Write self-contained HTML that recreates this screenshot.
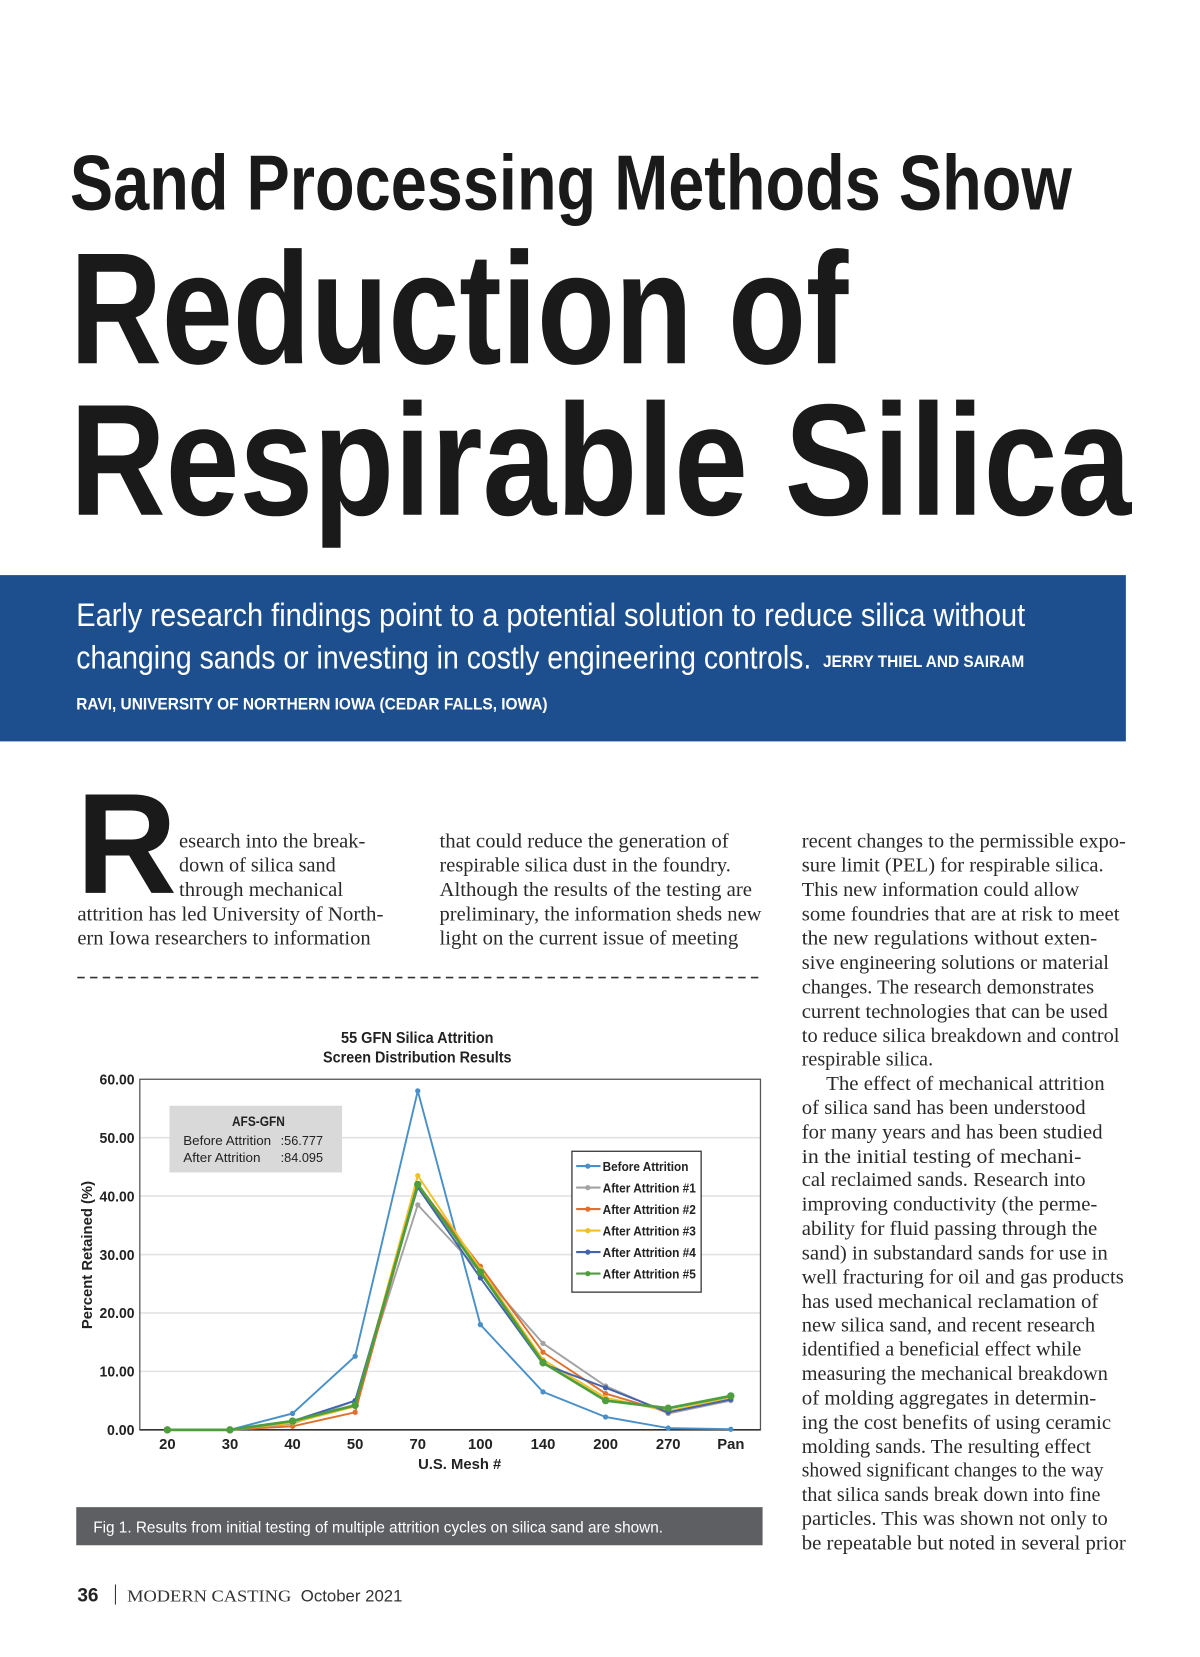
<!DOCTYPE html>
<html><head><meta charset="utf-8"><style>
html,body{margin:0;padding:0;background:#fff;}
svg{display:block;}
.h{font-family:"Liberation Sans Narrow","Liberation Sans",sans-serif;font-weight:bold;fill:#1a1a1a;}
.s{font-family:"Liberation Serif",serif;font-size:19px;fill:#2a2a2a;}
</style></head><body>
<svg id="page" width="1200" height="1657" viewBox="0 0 1133 1564.5" preserveAspectRatio="none">
<g>
<text class="h" x="66" y="198" font-size="74" textLength="946" lengthAdjust="spacingAndGlyphs">Sand Processing Methods Show</text>
<text class="h" x="66" y="343" font-size="150" textLength="735" lengthAdjust="spacingAndGlyphs">Reduction of</text>
<text class="h" x="66" y="486" font-size="150" textLength="1002" lengthAdjust="spacingAndGlyphs">Respirable Silica</text>
</g>
<g>
<rect x="0" y="543" width="1063" height="157" fill="#1d4f8e"/>
<text x="72" y="591" font-family="Liberation Sans Narrow, Liberation Sans, sans-serif" font-size="31" fill="#fff" textLength="896" lengthAdjust="spacingAndGlyphs">Early research findings point to a potential solution to reduce silica without</text>
<text x="72" y="631" font-family="Liberation Sans Narrow, Liberation Sans, sans-serif" font-size="31" fill="#fff" textLength="694" lengthAdjust="spacingAndGlyphs">changing sands or investing in costly engineering controls.</text>
<text x="777" y="630" font-family="Liberation Sans Narrow, Liberation Sans, sans-serif" font-weight="bold" font-size="16" fill="#fff" textLength="190" lengthAdjust="spacingAndGlyphs">JERRY THIEL AND SAIRAM</text>
<text x="72" y="670" font-family="Liberation Sans Narrow, Liberation Sans, sans-serif" font-weight="bold" font-size="16" fill="#fff" textLength="445" lengthAdjust="spacingAndGlyphs">RAVI, UNIVERSITY OF NORTHERN IOWA (CEDAR FALLS, IOWA)</text>
</g>
<text class="h" x="72" y="843" font-size="135" textLength="95" lengthAdjust="spacingAndGlyphs">R</text>
<g id="body"></g>
<line x1="73" y1="923" x2="720" y2="923" stroke="#333" stroke-width="1.5" stroke-dasharray="7,5"/>
<g id="chart"></g>
<rect x="72" y="1423" width="648" height="36" fill="#5e5f62"/>
<text x="88" y="1447" font-family="Liberation Sans Narrow, Liberation Sans, sans-serif" font-size="15" fill="#fff" textLength="538" lengthAdjust="spacingAndGlyphs">Fig 1. Results from initial testing of multiple attrition cycles on silica sand are shown.</text>
<g>
<text x="73" y="1512" font-family="Liberation Sans, sans-serif" font-weight="bold" font-size="18" fill="#222">36</text>
<line x1="109" y1="1496" x2="109" y2="1515" stroke="#333"/>
<text x="120" y="1512" font-family="Liberation Serif, serif" font-size="16" fill="#333" textLength="155" lengthAdjust="spacingAndGlyphs">MODERN CASTING</text>
<text x="284" y="1512" font-family="Liberation Sans, sans-serif" font-size="16" fill="#333" textLength="96" lengthAdjust="spacingAndGlyphs">October 2021</text>
</g>
</svg>
<script>
const NS="http://www.w3.org/2000/svg";
function mk(tag,attrs,parent,txt){const e=document.createElementNS(NS,tag);for(const k in attrs)e.setAttribute(k,attrs[k]);if(txt!==undefined)e.textContent=txt;parent.appendChild(e);return e;}
const body=document.getElementById('body');
const lines=[
[169,800,176,"esearch into the break-"],[169,823,148,"down of silica sand"],[169,846,155,"through mechanical"],[73,869,289,"attrition has led University of North-"],[73,892,277,"ern Iowa researchers to information"],
[415,800,273,"that could reduce the generation of"],[415,823,275,"respirable silica dust in the foundry."],[415,846,295,"Although the results of the testing are"],[415,869,304,"preliminary, the information sheds new"],[415,892,282,"light on the current issue of meeting"],
[757,800,306,"recent changes to the permissible expo-"],[757,823,285,"sure limit (PEL) for respirable silica."],[757,846,262,"This new information could allow"],[757,869,300,"some foundries that are at risk to meet"],[757,892,279,"the new regulations without exten-"],[757,915,290,"sive engineering solutions or material"],[757,938,276,"changes. The research demonstrates"],[757,961,289,"current technologies that can be used"],[757,984,300,"to reduce silica breakdown and control"],[757,1006,124,"respirable silica."],
[780,1029,263,"The effect of mechanical attrition"],[757,1052,268,"of silica sand has been understood"],[757,1075,284,"for many years and has been studied"],[757,1098,264,"in the initial testing of mechani-"],[757,1120,268,"cal reclaimed sands. Research into"],[757,1143,279,"improving conductivity (the perme-"],[757,1166,279,"ability for fluid passing through the"],[757,1189,289,"sand) in substandard sands for use in"],[757,1212,304,"well fracturing for oil and gas products"],[757,1235,280,"has used mechanical reclamation of"],[757,1257,277,"new silica sand, and recent research"],[757,1280,264,"identified a beneficial effect while"],[757,1303,289,"measuring the mechanical breakdown"],[757,1326,278,"of molding aggregates in determin-"],[757,1349,292,"ing the cost benefits of using ceramic"],[757,1372,273,"molding sands. The resulting effect"],[757,1394,285,"showed significant changes to the way"],[757,1417,282,"that silica sands break down into fine"],[757,1440,289,"particles. This was shown not only to"],[757,1463,306,"be repeatable but noted in several prior"]];
lines.forEach(l=>{const t=mk('text',{class:'s',x:l[0],y:l[1],textLength:l[2],lengthAdjust:'spacingAndGlyphs'},body,l[3]);

});

// ---- chart data ----
const categories=["20","30","40","50","70","100","140","200","270","Pan"];
const yTicks=[0,10,20,30,40,50,60];
const seriesNames=["Before Attrition","After Attrition  #1","After Attrition  #2","After Attrition  #3","After Attrition  #4","After Attrition  #5"];
const seriesColors=["#4a90c8","#a3a3a3","#e0702e","#f0c028","#4363ad","#4f9e3e"];
const before=[0,0,2.8,12.6,58.0,18.0,6.5,2.2,0.3,0.1];
const after1=[0,0,1.0,5.0,38.5,27.0,14.8,7.5,2.8,5.0];
const after2=[0,0,0.6,3.0,42.0,28.0,13.3,6.2,3.0,5.2];
const after3=[0,0,1.2,4.0,43.5,27.5,12.0,5.5,3.2,5.5];
const after4=[0,0,1.5,5.0,41.5,26.0,11.3,7.2,3.0,5.2];
const after5=[0,0,1.5,4.2,42.0,27.0,11.5,5.0,3.7,5.8];
const allSeries=[before,after1,after2,after3,after4,after5];

const ch=document.getElementById('chart');
const X0=132,X1=718,Y0=1350,Y1=1019;
const xPos=i=>158+i*(690-158)/(categories.length-1);
const yPos=v=>Y0-(v/60)*(Y0-Y1);
const f='Liberation Sans Narrow, Liberation Sans, sans-serif';
let e;
yTicks.forEach(v=>{e=mk('line',{x1:X0,x2:X1,y1:yPos(v),y2:yPos(v),stroke:'#e2e2e2','stroke-width':1.5},ch);


e=mk('text',{x:127,y:yPos(v)+5,'text-anchor':'end','font-family':f,'font-weight':'bold','font-size':14,fill:'#222',textLength:v===0?26:33,lengthAdjust:'spacingAndGlyphs'},ch,v.toFixed(2));

});
e=mk('rect',{x:X0,y:Y1,width:X1-X0,height:Y0-Y1,fill:'none',stroke:'#555','stroke-width':1.2},ch);


e=mk('line',{x1:X0,x2:X1,y1:Y0,y2:Y0,stroke:'#333','stroke-width':1.5},ch);


categories.forEach((c,i)=>{e=mk('text',{x:xPos(i),y:1368,'text-anchor':'middle','font-family':f,'font-weight':'bold','font-size':14,fill:'#222'},ch,c);

});
e=mk('text',{x:434,y:1387,'text-anchor':'middle','font-family':f,'font-weight':'bold','font-size':14,fill:'#222'},ch,'U.S. Mesh #');


e=mk('text',{x:0,y:0,transform:'translate(87,1185) rotate(-90)','text-anchor':'middle','font-family':'Liberation Sans, sans-serif','font-weight':'bold','font-size':14,fill:'#222'},ch,'Percent Retained (%)');


e=mk('text',{x:394,y:985,'text-anchor':'middle','font-family':f,'font-weight':'bold','font-size':15,fill:'#222',textLength:144,lengthAdjust:'spacingAndGlyphs'},ch,'55 GFN Silica Attrition');


e=mk('text',{x:394,y:1003,'text-anchor':'middle','font-family':f,'font-weight':'bold','font-size':15,fill:'#222',textLength:178,lengthAdjust:'spacingAndGlyphs'},ch,'Screen Distribution Results');


// AFS box
e=mk('rect',{x:160,y:1044,width:163,height:63,fill:'#d9d9d9'},ch);


e=mk('text',{x:244,y:1063,'text-anchor':'middle','font-family':f,'font-weight':'bold','font-size':13,fill:'#222',textLength:50,lengthAdjust:'spacingAndGlyphs'},ch,'AFS-GFN');


[['Before Attrition',':56.777',1081,83],['After Attrition',':84.095',1097,73]].forEach(r=>{
e=mk('text',{x:173,y:r[2],'font-family':f,'font-size':12.5,fill:'#222',textLength:r[3],lengthAdjust:'spacingAndGlyphs'},ch,r[0]);


e=mk('text',{x:265,y:r[2],'font-family':f,'font-size':12.5,fill:'#222',textLength:40,lengthAdjust:'spacingAndGlyphs'},ch,r[1]);

});
// series
allSeries.forEach((s,k)=>{const pts=s.map((v,i)=>xPos(i)+','+yPos(v)).join(' ');
e=mk('polyline',{points:pts,fill:'none',stroke:seriesColors[k],'stroke-width':k==5?2.6:1.8},ch);


s.forEach((v,i)=>{e=mk('circle',{cx:xPos(i),cy:yPos(v),r:k==5?3.5:2.5,fill:seriesColors[k]},ch);

});});
// legend
e=mk('rect',{x:540,y:1087,width:122,height:133,fill:'#fff',stroke:'#333','stroke-width':1.2},ch);


seriesNames.forEach((n,k)=>{const y=1101+k*20.3;
e=mk('line',{x1:544,x2:567,y1:y,y2:y,stroke:seriesColors[k],'stroke-width':2},ch);


e=mk('circle',{cx:555,cy:y,r:2.5,fill:seriesColors[k]},ch);


e=mk('text',{x:569,y:y+4.5,'font-family':f,'font-weight':'bold','font-size':12.5,fill:'#222',textLength:k==0?81:88,lengthAdjust:'spacingAndGlyphs'},ch,n);

});
</script>
</body></html>
